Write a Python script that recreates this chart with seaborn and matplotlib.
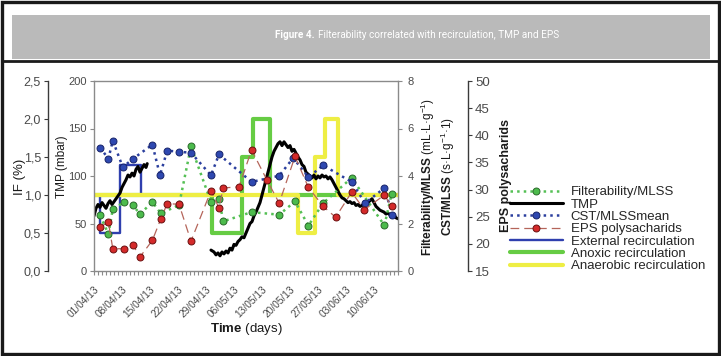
import matplotlib
matplotlib.use("Agg")
import matplotlib.pyplot as plt
import seaborn as sns
from matplotlib.lines import Line2D
from matplotlib.patches import Rectangle
from matplotlib.ticker import MultipleLocator

sns.set_theme(style="white")
plt.rcParams['font.family'] = ['Liberation Sans', 'DejaVu Sans']
plt.rcParams['mathtext.fontset'] = 'custom'
plt.rcParams['mathtext.rm'] = 'Liberation Sans'
plt.rcParams['mathtext.bf'] = 'Liberation Sans:bold'
plt.rcParams['mathtext.it'] = 'Liberation Sans:italic'

# ---- data (x = days since 01/04/13) ----
date_ticks = [0, 7, 14, 21, 28, 35, 42, 49, 56, 63, 70]
date_labels = ["01/04/13", "08/04/13", "15/04/13", "22/04/13", "29/04/13", "06/05/13",
               "13/05/13", "20/05/13", "27/05/13", "03/06/13", "10/06/13"]

filt_days = [1.5, 3.6, 4.7, 7.5, 9.7, 11.5, 14.6, 16.7, 21.25, 24.25, 29.25, 31.25,
             32.3, 39.4, 46.3, 50.25, 53.6, 57.3, 64.4, 72.6, 74.4]
filt_vals = [2.34, 1.56, 2.61, 2.89, 2.77, 2.4, 2.9, 2.43, 2.77, 5.25, 2.9, 3.05,
             2.09, 2.48, 2.37, 2.93, 1.91, 2.86, 3.92, 1.92, 3.24]

cst_days = [1.5, 3.6, 4.7, 7.2, 9.7, 14.6, 16.5, 18.3, 21.25, 24.25, 29.25, 31.25,
            39.4, 46.3, 49.8, 53.6, 57.3, 64.4, 67.75, 72.6, 74.6]
cst_vals = [5.2, 4.73, 5.49, 4.37, 4.72, 5.32, 4.03, 5.07, 5.02, 4.98, 4.03, 4.91,
            3.75, 4.01, 4.76, 3.95, 4.45, 3.75, 2.86, 3.49, 2.37]

eps_days = [1.5, 3.6, 4.7, 7.5, 9.7, 11.5, 14.6, 16.7, 18.3, 21.25, 24.25, 29.25, 31.25,
            32.3, 36.25, 39.4, 43.2, 46.3, 50.25, 53.6, 57.3, 60.4, 64.4, 67.6, 72.6, 74.4]
eps_vals = [23.1, 24.0, 19.1, 19.1, 19.85, 17.6, 20.65, 24.6, 27.4, 27.3, 20.5, 29.8, 26.6,
            30.3, 30.5, 37.3, 31.8, 27.5, 36.1, 30.4, 26.9, 24.9, 29.5, 26.3, 29.0, 26.9]

tmp1_days = [0, 0.5, 1, 1.5, 2, 2.5, 3, 3.5, 4, 4.5, 5, 5.5, 6, 6.5, 7, 7.5, 8, 8.5,
             9, 9.5, 10, 10.5, 11, 11.5, 12, 12.5, 13, 13.3]
tmp1_vals = [58, 66, 70, 67, 72, 69, 66, 71, 74, 70, 73, 76, 79, 82, 88, 92, 96, 101,
             99, 103, 100, 107, 110, 104, 108, 112, 109, 113]

tmp2_days = [29.25, 30, 30.5, 31, 31.5, 32, 32.5, 33, 33.5, 34, 34.5, 35, 35.5, 36, 36.5,
             37, 37.5, 38, 38.5, 39, 39.5, 40, 40.5, 41, 41.5, 42, 42.5, 43, 43.5, 44,
             44.5, 45, 45.5, 46, 46.5, 47, 47.5, 48, 48.5, 49, 49.5, 50, 50.5, 51, 51.5,
             52, 52.5, 53, 53.5, 54, 54.5, 55, 55.5, 56, 56.5, 57, 57.5, 58, 58.5, 59,
             59.5, 60, 60.5, 61, 61.5, 62, 62.5, 63, 63.5, 64, 64.5, 65, 65.5, 66, 66.5,
             67, 67.5, 68, 68.5, 69, 69.5, 70, 70.5, 71, 71.5, 72, 72.5, 73, 73.5, 74,
             74.5, 75, 75.5, 76]
tmp2_vals = [22, 20, 17, 19, 16, 20, 18, 21, 19, 24, 22, 28, 27, 31, 33,
             36, 35, 40, 45, 50, 52, 58, 62, 67, 72, 80, 88, 96, 104, 112,
             120, 126, 130, 134, 136, 132, 136, 133, 130, 132, 126, 128, 124, 120, 117,
             112, 110, 104, 102, 100, 98, 101, 97, 100, 98, 101, 99, 100, 97, 99,
             96, 92, 88, 84, 80, 77, 76, 74, 72, 73, 71, 72, 69, 70, 68,
             69, 71, 70, 72, 74, 76, 72, 68, 66, 64, 63, 62, 60, 61, 59,
             57, 59, 56, 55]

# recirculation steps (IF %), value holds from each day until the next
ext_days = [0, 1.5, 6.5, 11.7, 76]
ext_vals = [1.0, 0.5, 1.4, 1.0, 1.0]
anox_days = [0, 29.4, 37.1, 39.8, 44.0, 76]
anox_vals = [1.0, 0.5, 1.5, 2.0, 1.0, 1.0]
anaer_days = [0, 51.0, 55.25, 57.75, 61.1, 76]
anaer_vals = [1.0, 0.5, 1.5, 2.0, 1.0, 1.0]

if_ticks = [0, 0.5, 1.0, 1.5, 2.0, 2.5]
if_labels = ["0,0", "0,5", "1,0", "1,5", "2,0", "2,5"]

W, H = 721, 356
spine_c = "#8a8a8a"
tick_c = "#4a4a4a"

fig = plt.figure(figsize=(W / 100, H / 100), dpi=100)
fig.patch.set_facecolor("white")

# frame and title band
fig.add_artist(Rectangle((2 / W, 2 / H), 717 / W, 352 / H, transform=fig.transFigure,
                         fill=False, edgecolor="#1a1a1a", lw=2.4))
fig.add_artist(Rectangle((11.5 / W, 1 - 59 / H), 698.5 / W, 44 / H, transform=fig.transFigure,
                         facecolor="#bababa", edgecolor="none"))
fig.add_artist(Line2D([3 / W, 718 / W], [1 - 60.5 / H] * 2, transform=fig.transFigure,
                      color="#1a1a1a", lw=2.0))
tfam = ['Roboto', 'DejaVu Sans']
t1 = fig.text(275 / W, 1 - 35.5 / H, "Figure 4.", color="white", fontsize=7.2,
              fontweight="bold", family=tfam, va="center", ha="left")
fig.canvas.draw()
bb = t1.get_window_extent()
fig.text((bb.x1 + 3) / W, 1 - 35.5 / H,
         "Filterability correlated with recirculation, TMP and EPS",
         color="white", fontsize=7.2, family=tfam, va="center", ha="left")

ax = fig.add_axes([94 / W, 1 - 271 / H, 304 / W, 190 / H])
ax_if = ax.twinx()
ax_f = ax.twinx()
ax_eps = ax.twinx()
for z, a in enumerate([ax_if, ax, ax_f, ax_eps]):
    a.set_zorder(z + 1)
    a.patch.set_visible(False)

# recirculation lines
sns.lineplot(x=ext_days, y=ext_vals, ax=ax_if, color="#2f3fae", lw=1.7,
             drawstyle="steps-post", estimator=None, sort=False)
sns.lineplot(x=anox_days, y=anox_vals, ax=ax_if, color="#66cc44", lw=3.0,
             drawstyle="steps-post", estimator=None, sort=False)
sns.lineplot(x=anaer_days, y=anaer_vals, ax=ax_if, color="#eeee44", lw=3.0,
             drawstyle="steps-post", estimator=None, sort=False)
ext_line, anox_line, anaer_line = ax_if.lines[:3]

# TMP
sns.lineplot(x=tmp1_days, y=tmp1_vals, ax=ax, color="black", lw=2.2, estimator=None, sort=False)
sns.lineplot(x=tmp2_days, y=tmp2_vals, ax=ax, color="black", lw=2.2, estimator=None, sort=False)
tmp_line = ax.lines[0]

# filterability and CST
sns.lineplot(x=filt_days, y=filt_vals, ax=ax_f, color="#55c055", lw=1.8, ls=":",
             marker="o", ms=5, mfc="#4cbb4c", mec="#2a6a2a", mew=0.7,
             estimator=None, sort=False)
sns.lineplot(x=cst_days, y=cst_vals, ax=ax_f, color="#2b3f9e", lw=1.8, ls=":",
             marker="o", ms=5, mfc="#2e48b0", mec="#18246a", mew=0.7,
             estimator=None, sort=False)
filt_line, cst_line = ax_f.lines[:2]

# EPS
sns.lineplot(x=eps_days, y=eps_vals, ax=ax_eps, color="#b5655a", lw=0.9, ls=(0, (7, 4)),
             marker="o", ms=5, mfc="#d42a2a", mec="#6a1010", mew=0.7,
             estimator=None, sort=False)
eps_line = ax_eps.lines[0]

# limits / ticks
ax.set_xlim(0, 76)
ax.set_ylim(0, 200)
ax_if.set_ylim(0, 2.5)
ax_f.set_ylim(0, 8)
ax_eps.set_ylim(15, 50)

ax.set_xticks(date_ticks)
ax.set_xticklabels(date_labels, rotation=45, ha="right", rotation_mode="anchor")
ax.xaxis.set_minor_locator(MultipleLocator(1))
ax.set_yticks([0, 50, 100, 150, 200])
ax_if.set_yticks(if_ticks)
ax_if.set_yticklabels(if_labels)
ax_f.set_yticks([0, 2, 4, 6, 8])
ax_eps.set_yticks([15, 20, 25, 30, 35, 40, 45, 50])

for a in [ax, ax_if, ax_f, ax_eps]:
    for s in a.spines.values():
        s.set_visible(False)
        s.set_color(spine_c)
        s.set_linewidth(1.0)
    a.tick_params(axis="both", which="both", length=3, width=0.8, color=spine_c,
                  labelcolor=tick_c, labelsize=8, pad=2)
    a.set_xlabel("")
    a.set_ylabel("")

for k in ["left", "bottom", "top", "right"]:
    ax.spines[k].set_visible(True)
ax.tick_params(axis="x", which="both", bottom=True, labelsize=7.3, pad=6.5)
ax.tick_params(axis="y", left=True, right=False)

ax_if.yaxis.set_ticks_position("left")
ax_if.yaxis.set_label_position("left")
ax_if.spines["left"].set_position(("axes", -46 / 304))
ax_if.spines["left"].set_visible(True)
ax_if.spines["left"].set_color("#3a3a3a")
ax_if.tick_params(axis="y", left=True, right=False, color="#3a3a3a")

ax_f.tick_params(axis="y", right=True, left=False, pad=4)

ax_eps.spines["right"].set_position(("axes", (468 - 94) / 304))
ax_eps.spines["right"].set_visible(True)
ax_eps.spines["right"].set_color("#3a3a3a")
ax_eps.tick_params(axis="y", right=True, left=False, color="#3a3a3a", labelsize=9.5)
ax_if.tick_params(axis="y", labelsize=9)

# axis titles
ax.set_ylabel("TMP (mbar)", fontsize=8.5, color="#1a1a1a")
ax.yaxis.set_label_coords((67.5 - 94) / 304, (271 - 167) / 190)
ax_if.set_ylabel("IF (%)", fontsize=9.5, color="#1a1a1a")
ax_if.yaxis.set_label_coords((26 - 94) / 304, (271 - 177) / 190)
ax.set_xlabel(r"$\bf{Time}$ (days)", fontsize=9.5, color="#1a1a1a")
ax.xaxis.set_label_coords(0.5, -(50 - 0) / 190)

fig.text(428 / W, 1 - 177 / H, r"$\bf{Filterability/MLSS}$ (mL·L·g$^{-1}$)", rotation=90,
         ha="center", va="center", fontsize=8.5, color="#1a1a1a")
fig.text(448 / W, 1 - 177 / H, r"$\bf{CST/MLSS}$ (s·L·g$^{-1}$·1)", rotation=90,
         ha="center", va="center", fontsize=8.5, color="#1a1a1a")
fig.text(506 / W, 1 - 175 / H, "EPS polysacharids", rotation=90, fontweight="bold",
         ha="center", va="center", fontsize=9, color="#1a1a1a")

handles = [filt_line, tmp_line, cst_line, eps_line, ext_line, anox_line, anaer_line]
labels = ["Filterability/MLSS", "TMP", "CST/MLSSmean", "EPS polysacharids",
          "External recirculation", "Anoxic recirculation", "Anaerobic recirculation"]
fig.legend(handles, labels, loc="upper left", bbox_to_anchor=(510 / W, 1 - 186 / H),
           frameon=False, fontsize=9.5, handlelength=4.0, handletextpad=0.6,
           labelspacing=0.01, borderpad=0, borderaxespad=0, numpoints=1)

fig.savefig("out.png", dpi=100)
